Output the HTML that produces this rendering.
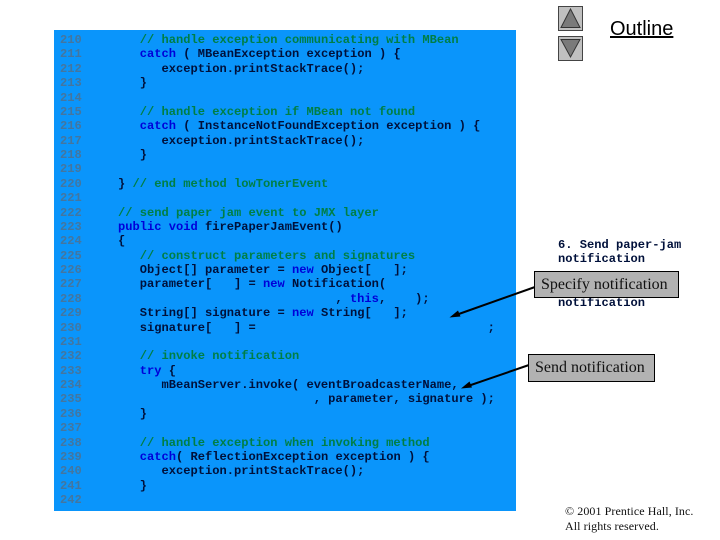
<!DOCTYPE html>
<html><head><meta charset="utf-8"><style>
html,body{margin:0;padding:0;background:#fff;width:720px;height:540px;overflow:hidden}
#bg{position:absolute;left:54px;top:30px;width:462px;height:481px;background:#0a95fb}
pre{position:absolute;margin:0;font:bold 12.08px/14.375px "Liberation Mono",monospace;color:#00103a}
#code{left:60px;top:33px;width:450px}
.n{color:#44769f}.c{color:#007f45}.k{color:#0000d8}
.box{position:absolute;box-sizing:border-box;background:#b2b2b2;border:1px solid #000;font:16px "Liberation Serif",serif;color:#111;white-space:nowrap}
.t{position:absolute;white-space:nowrap}
.nav{position:absolute;left:558px;width:25px;height:25px;box-sizing:border-box;background:#c0c0c0;border:1px solid #444}
</style></head><body>
<div id="bg"></div>
<pre id="code"><span class="n">210</span>        <span class="c">// handle exception communicating with MBean</span>
<span class="n">211</span>        <span class="k">catch</span> ( MBeanException exception ) {
<span class="n">212</span>           exception.printStackTrace();
<span class="n">213</span>        }
<span class="n">214</span>
<span class="n">215</span>        <span class="c">// handle exception if MBean not found</span>
<span class="n">216</span>        <span class="k">catch</span> ( InstanceNotFoundException exception ) {
<span class="n">217</span>           exception.printStackTrace();
<span class="n">218</span>        }
<span class="n">219</span>
<span class="n">220</span>     } <span class="c">// end method lowTonerEvent</span>
<span class="n">221</span>
<span class="n">222</span>     <span class="c">// send paper jam event to JMX layer</span>
<span class="n">223</span>     <span class="k">public void</span> firePaperJamEvent()
<span class="n">224</span>     {
<span class="n">225</span>        <span class="c">// construct parameters and signatures</span>
<span class="n">226</span>        Object[] parameter = <span class="k">new</span> Object[   ];
<span class="n">227</span>        parameter[   ] = <span class="k">new</span> Notification(
<span class="n">228</span>                                   , <span class="k">this</span>,    );
<span class="n">229</span>        String[] signature = <span class="k">new</span> String[   ];
<span class="n">230</span>        signature[   ] =                                ;
<span class="n">231</span>
<span class="n">232</span>        <span class="c">// invoke notification</span>
<span class="n">233</span>        <span class="k">try</span> {
<span class="n">234</span>           mBeanServer.invoke( eventBroadcasterName,
<span class="n">235</span>                                , parameter, signature );
<span class="n">236</span>        }
<span class="n">237</span>
<span class="n">238</span>        <span class="c">// handle exception when invoking method</span>
<span class="n">239</span>        <span class="k">catch</span>( ReflectionException exception ) {
<span class="n">240</span>           exception.printStackTrace();
<span class="n">241</span>        }
<span class="n">242</span></pre>

<div class="nav" style="top:6px"></div>
<div class="nav" style="top:36px"></div>
<svg style="position:absolute;left:0;top:0" width="720" height="540">
<polygon points="570.5,9 561,27.5 580,27.5" fill="#7a7a7a" stroke="#333" stroke-width="1"/>
<polygon points="561,39.5 580,39.5 570.5,57" fill="#7a7a7a" stroke="#333" stroke-width="1"/>
<line x1="535" y1="287" x2="456" y2="315" stroke="#000" stroke-width="2"/>
<polygon points="449.5,317.5 458,310.5 460.5,316.5" fill="#000"/>
<line x1="529" y1="365" x2="468" y2="386" stroke="#000" stroke-width="2"/>
<polygon points="461,388.5 469.5,381.5 472,387.5" fill="#000"/>
</svg>
<div class="t" style="left:610px;top:17px;font:20px/24px 'Liberation Sans',sans-serif;color:#000;text-decoration:underline">Outline</div>
<pre style="left:558px;top:238px">6. Send paper-jam
notification</pre>
<pre style="left:558px;top:296px">notification</pre>
<div class="box" style="left:534px;top:271px;width:145px;height:27px;padding:4px 0 0 6px">Specify notification</div>
<div class="box" style="left:528px;top:354px;width:127px;height:28px;padding:4px 0 0 6px">Send notification</div>
<div class="t" style="left:565px;top:504px;font:12px/15px 'Liberation Serif',serif;letter-spacing:.08px;color:#111">© 2001 Prentice Hall, Inc.<br>All rights reserved.</div>
</body></html>
